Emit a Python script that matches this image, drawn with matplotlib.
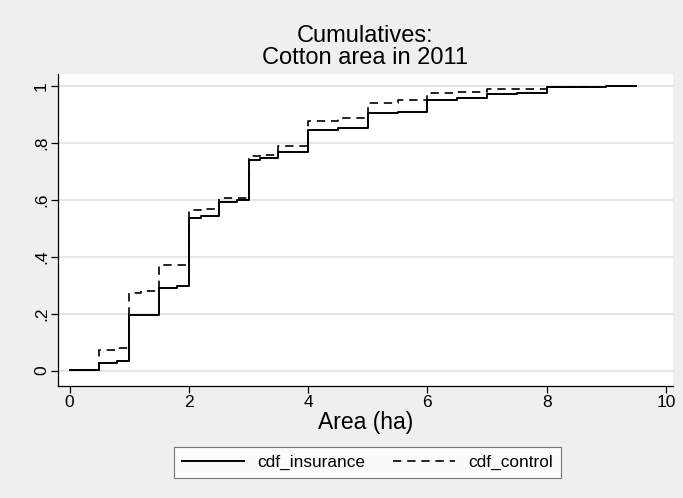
import matplotlib
matplotlib.use("Agg")
import matplotlib.pyplot as plt

plt.rcParams.update({
    "font.family": ["Liberation Sans", "DejaVu Sans"],
})

# step points (area in ha, cumulative share)
ins_area = [0, 0.5, 0.8, 1, 1.5, 1.8, 2, 2.2, 2.5, 2.8, 3, 3.2, 3.5,
            4, 4.5, 5, 5.5, 6, 6.5, 7, 7.5, 8, 9, 9.5]
ins_cdf = [0.003, 0.026, 0.032, 0.195, 0.289, 0.297, 0.535, 0.543, 0.593,
           0.600, 0.739, 0.745, 0.766, 0.845, 0.853, 0.903, 0.909, 0.950,
           0.956, 0.971, 0.976, 0.997, 0.999, 1.0]

ctl_area = [0, 0.5, 0.8, 1, 1.2, 1.5, 2, 2.2, 2.5, 3, 3.2, 3.5, 4, 4.5,
            5, 5.5, 6, 6.5, 7, 8, 9]
ctl_cdf = [0.003, 0.073, 0.079, 0.271, 0.278, 0.371, 0.564, 0.567, 0.607,
           0.754, 0.757, 0.789, 0.877, 0.888, 0.938, 0.950, 0.973, 0.979,
           0.988, 0.997, 1.0]

xticks = [0, 2, 4, 6, 8, 10]
yticks = [0, 0.2, 0.4, 0.6, 0.8, 1]
ytick_labels = ["0", ".2", ".4", ".6", ".8", "1"]

bg = "#efefef"
W, H = 683, 498
fig = plt.figure(figsize=(W / 100, H / 100), dpi=100, facecolor=bg)
ax = fig.add_axes([58 / W, 1 - 386 / H, (673 - 58) / W, (386 - 74) / H])
ax.set_facecolor("white")

ax.step(ins_area, ins_cdf, where="post", color="black", linewidth=1.4,
        label="cdf_insurance")
ax.step(ctl_area, ctl_cdf, where="post", color="black", linewidth=1.2,
        linestyle=(0, (5, 3.5)), label="cdf_control")

ax.set_xlim(-0.196, 10.12)
ax.set_ylim(-0.054, 1.041)
ax.set_xticks(xticks)
ax.set_yticks(yticks)
ax.set_yticklabels(ytick_labels, rotation=90, va="center")
ax.tick_params(labelsize=12.5, length=5, width=0.9, color="black", pad=1.5)
ax.yaxis.grid(True, color="#e6e6e6", linewidth=1.5)
ax.set_axisbelow(True)
for s in ["top", "right"]:
    ax.spines[s].set_visible(False)
for s in ["left", "bottom"]:
    ax.spines[s].set_linewidth(0.9)

ax.set_xlabel("Area (ha)", fontsize=16.5, labelpad=1)

cx = (58 + 673) / 2 / W
fig.text(cx, 1 - 36 / H, "Cumulatives:", ha="center", va="center", fontsize=17)
fig.text(cx, 1 - 58 / H, "Cotton area in 2011", ha="center", va="center",
         fontsize=17)

leg = fig.legend(loc="center", bbox_to_anchor=(367.5 / W, 1 - 462.5 / H),
                 ncol=2, fontsize=12.4, handlelength=3.6, columnspacing=1.6,
                 handletextpad=0.8, frameon=True, fancybox=False,
                 borderpad=0.45)
leg.get_frame().set_edgecolor("#555555")
leg.get_frame().set_linewidth(0.8)

fig.savefig("out.png", dpi=100, facecolor=bg)
